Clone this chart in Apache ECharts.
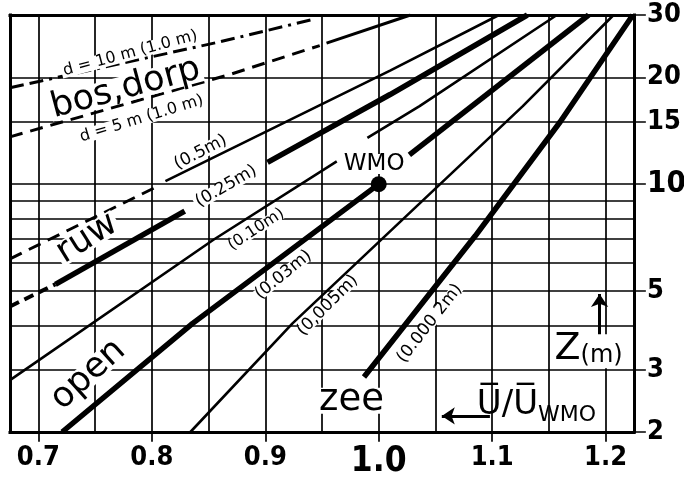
<!DOCTYPE html>
<html><head><meta charset="utf-8">
<script src="https://cdn.jsdelivr.net/npm/echarts@6/dist/echarts.min.js"></script>
<style>html,body{margin:0;padding:0;background:#fff}#c{width:684px;height:480px}</style>
</head><body><div id="c"></div>
<script>
// ---- axes (U/U_WMO horizontally, height z in m vertically, log) ----
const xTicks = [0.7, 0.8, 0.9, 1.0, 1.1, 1.2];
const xGrid = [0.7, 0.75, 0.8, 0.85, 0.9, 0.95, 1.0, 1.05, 1.1, 1.15, 1.2];
const zTicks = [2, 3, 5, 10, 15, 20, 30];
const zGrid = [2, 3, 4, 5, 6, 7, 8, 9, 10, 15, 20, 30];

// ---- profiles: [U/U_WMO, z (m)] ----
const d10m = [[0.675, 18.7], [0.860, 25.2], [0.941, 29.1]];
const d5mDashed = [[0.675, 13.6], [0.869, 20.4], [0.948, 24.6]];
const d5mSolid = [[0.954, 25.0], [1.028, 30]];
const z05Dashed = [[0.675, 6.16], [0.805, 9.86]];
const z05Solid = [[0.812, 10.2], [1.010, 20.9], [1.106, 30]];
const z025Dashed = [[0.675, 4.52], [0.715, 5.22]];
const z025SolidA = [[0.715, 5.22], [0.829, 8.40]];
const z025SolidB = [[0.902, 11.52], [1.010, 17.9], [1.131, 30]];
const z010A = [[0.675, 2.80], [0.854, 6.96], [0.963, 11.6]];
const z010B = [[0.990, 13.5], [1.036, 16.6], [1.157, 30]];
const z003A = [[0.721, 2], [0.836, 4.05], [1.0, 10]];
const z003B = [[1.027, 12.1], [1.185, 30]];
const z0005 = [[0.834, 2], [0.924, 4.05], [1.127, 16.6], [1.207, 30]];
const z00002 = [[0.987, 2.86], [1.085, 7.14], [1.160, 15], [1.224, 30]];
const wmoPoint = [[1.0, 10]];

// plotting frame and the reach of the outside tick marks
const X0 = 0.675, X1 = 1.225, Z0 = 2, Z1 = 30;
const X_TICK_END = 1.2347;   // right tick marks reach beyond the frame
const Z_TICK_END = 1.8865;   // bottom tick marks reach below the frame

const NARROW = "'Liberation Sans Narrow','DejaVu Sans Condensed','Liberation Sans',sans-serif";
const SANS = "'DejaVu Sans','Liberation Sans',sans-serif";

function seg(data, width, type) {
  return {
    type: 'line', data: data, showSymbol: false, symbol: 'none', silent: true,
    lineStyle: { color: '#000', width: width, type: type || 'solid', cap: 'butt', opacity: 1 },
    z: 3
  };
}
function mlines(pairs, width, z) {
  return {
    type: 'line', data: [], silent: true, z: z,
    markLine: {
      silent: true, symbol: ['none', 'none'], animation: false,
      label: { show: false },
      lineStyle: { color: '#000', width: width, type: 'solid', opacity: 1, cap: 'square' },
      data: pairs.map(p => [{ coord: p[0] }, { coord: p[1] }])
    }
  };
}

// annotation texts placed at data coordinates
const notes = [
  { at: [0.781, 23.4], text: 'd = 10 m (1.0 m)', rot: 15, size: 16, lh: 14 },
  { at: [0.777, 18.6], text: 'bos,dorp', rot: 15, size: 35, lh: 26 },
  { at: [0.791, 15.3], text: 'd = 5 m (1.0 m)', rot: 17, size: 16, lh: 14 },
  { at: [0.843, 12.3], text: '(0.5m)', rot: 27, size: 17, lh: 14 },
  { at: [0.8655, 9.86], text: '(0.25m)', rot: 30, size: 17, lh: 14 },
  { at: [0.892, 7.45], text: '(0.10m)', rot: 33, size: 16, lh: 12 },
  { at: [0.916, 5.55], text: '(0.03m)', rot: 39, size: 17, lh: 12 },
  { at: [0.955, 4.55], text: '(0,005m)', rot: 45, size: 17, lh: 12 },
  { at: [1.045, 4.05], text: '(0.000 2m)', rot: 52, size: 17, lh: 12 },
  { at: [0.996, 11.4], text: 'WMO', rot: 0, size: 23, lh: 20 },
  { at: [0.743, 7.03], text: 'ruw', rot: 32, size: 35, lh: 24 },
  { at: [0.744, 2.90], text: 'open', rot: 42, size: 35, lh: 24 },
  { at: [0.976, 2.45], text: 'zee', rot: 0, size: 37, lh: 26 }
];

const chart = echarts.init(document.getElementById('c'), null, { renderer: 'canvas' });
const hidden = { color: 'rgba(0,0,0,0)', opacity: 1 };

// vertical grid lines: labelled ones run on below the frame as ticks
const vLines = xGrid.map(v => [[v, xTicks.some(t => Math.abs(t - v) < 1e-9) ? Z_TICK_END : Z0], [v, Z1]]);
// horizontal grid lines: labelled ones run on past the right edge as ticks
const hLines = zGrid.map(v => [[X0, v], [zTicks.indexOf(v) >= 0 ? X_TICK_END : X1, v]]);
const frame = [
  [[X0, Z0], [X1, Z0]], [[X0, Z1], [X1, Z1]],
  [[X0, Z0], [X0, Z1]], [[X1, Z0], [X1, Z1]]
];

const series = [
  mlines(vLines.concat(hLines), 1.7, 1),
  mlines(frame, 3, 2),
  seg(d10m, 3, [14, 6, 14, 6, 3, 6]),
  seg(d5mDashed, 3, [13, 8]),
  seg(d5mSolid, 3),
  seg(z05Dashed, 3, [13, 8]),
  seg(z05Solid, 2.6),
  seg(z025Dashed, 4, [10, 6]),
  seg(z025SolidA, 5.5),
  seg(z025SolidB, 5.5),
  seg(z010A, 2.6),
  seg(z010B, 2.6),
  seg(z003A, 5.5),
  seg(z003B, 5.5),
  seg(z0005, 2.6),
  seg(z00002, 5.5),
  {
    type: 'scatter', data: wmoPoint, symbol: 'circle', symbolSize: 16, silent: true,
    itemStyle: { color: '#000', opacity: 1 }, z: 5
  },
  // text annotations
  {
    type: 'scatter', silent: true, z: 6, symbolSize: 1,
    itemStyle: hidden,
    data: notes.map(n => ({
      value: n.at,
      label: {
        show: true, position: 'inside', formatter: n.text, rotate: n.rot,
        fontSize: n.size, fontFamily: SANS, color: '#000', opacity: 1,
        textBorderWidth: 0, lineHeight: n.lh, backgroundColor: '#fff', padding: [0, 2]
      }
    }))
  },
  // axis captions
  {
    type: 'scatter', silent: true, z: 6, symbolSize: 1,
    itemStyle: hidden,
    data: [
      {
        value: [1.139, 2.42],
        label: {
          show: true, position: 'inside', opacity: 1, textBorderWidth: 0,
          formatter: '{u|U\u0305/U\u0305}{s|WMO}',
          rich: {
            u: { fontSize: 34, fontFamily: SANS, color: '#000', verticalAlign: 'bottom', lineHeight: 40 },
            s: { fontSize: 22, fontFamily: SANS, color: '#000', verticalAlign: 'bottom', lineHeight: 24, padding: [0, 0, -4, 0] }
          }
        }
      },
      {
        value: [1.185, 3.38],
        label: {
          show: true, position: 'inside', backgroundColor: '#fff', padding: [0, 1], opacity: 1, textBorderWidth: 0,
          formatter: '{z|Z}{m|(m)}',
          rich: {
            z: { fontSize: 38, fontFamily: SANS, color: '#000', verticalAlign: 'bottom', lineHeight: 34 },
            m: { fontSize: 24, fontFamily: SANS, color: '#000', verticalAlign: 'bottom', lineHeight: 24 }
          }
        }
      }
    ]
  },
  // arrows
  {
    type: 'line', data: [], silent: true, z: 8,
    markLine: {
      silent: true, symbol: ['none', 'arrow'], symbolSize: 13, animation: false,
      label: { show: false },
      lineStyle: { color: '#000', width: 3, type: 'solid', opacity: 1 },
      data: [
        [{ coord: [1.098, 2.22] }, { coord: [1.0556, 2.22] }],
        [{ coord: [1.1947, 3.62] }, { coord: [1.1947, 4.90] }]
      ]
    }
  }
];

chart.setOption({
  animation: false,
  backgroundColor: '#fff',
  grid: {
    left: 10, right: 39, top: 15, bottom: 39, containLabel: false, outerBoundsMode: 'none', show: false
  },
  xAxis: {
    type: 'value', min: X0, max: X_TICK_END,
    axisLine: { show: false },
    axisTick: { show: false },
    splitLine: { show: false },
    axisLabel: {
      customValues: xTicks, margin: 3, color: '#000', hideOverlap: false,
      formatter: v => Math.abs(v - 1) < 1e-9 ? '{b|1.0}' : '{n|' + v.toFixed(1) + '}',
      rich: {
        n: { fontSize: 27, fontWeight: 'bold', fontFamily: NARROW, color: '#000' },
        b: { fontSize: 35, fontWeight: 'bold', fontFamily: NARROW, color: '#000' }
      }
    }
  },
  yAxis: {
    type: 'log', logBase: 10, min: Z_TICK_END, max: Z1, position: 'right',
    axisLine: { show: false },
    axisTick: { show: false },
    splitLine: { show: false },
    minorTick: { show: false }, minorSplitLine: { show: false },
    axisLabel: {
      customValues: zTicks, margin: 2, color: '#000', hideOverlap: false,
      formatter: v => Math.round(v) === 10 ? '{b|10}' : '{n|' + Math.round(v) + '}',
      rich: {
        n: { fontSize: 27, fontWeight: 'bold', fontFamily: NARROW, color: '#000' },
        b: { fontSize: 31, fontWeight: 'bold', fontFamily: NARROW, color: '#000' }
      }
    }
  },
  series: series
});
</script>
</body></html>
